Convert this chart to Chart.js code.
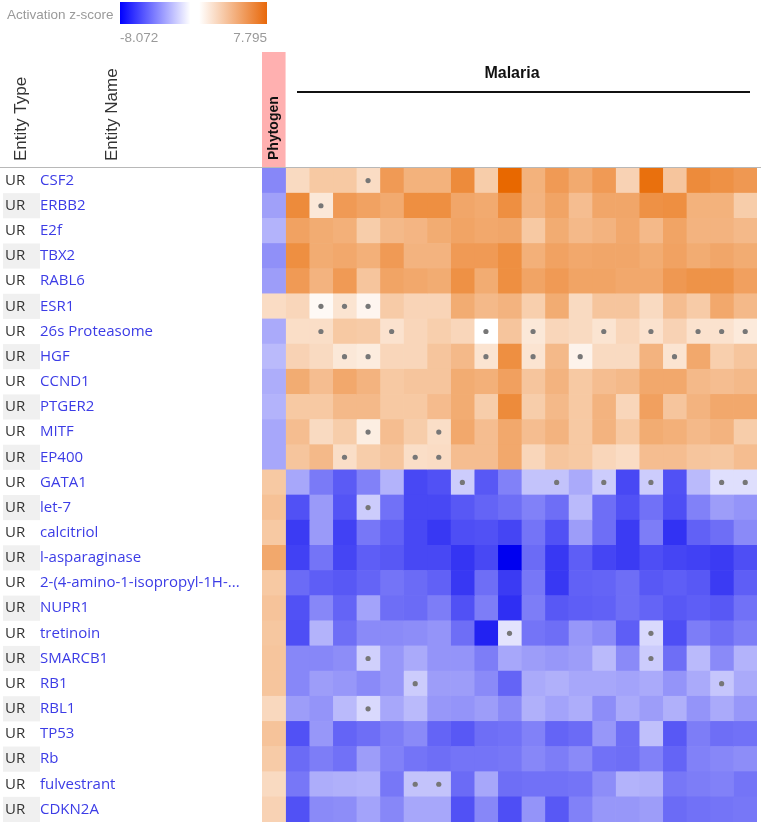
<!DOCTYPE html>
<html>
<head>
<meta charset="utf-8">
<script src="https://cdn.jsdelivr.net/npm/chart.js@4.4.1/dist/chart.umd.min.js"></script>
<style>
  html, body { margin: 0; padding: 0; background: #fff; }
  #wrap { width: 761px; height: 826px; position: relative; }
</style>
</head>
<body>
<div id="wrap"><canvas id="heatmap"></canvas></div>
<script>
// upstream regulators (rows)
const entityTypes = ['UR','UR','UR','UR','UR','UR','UR','UR','UR','UR','UR','UR','UR',
                     'UR','UR','UR','UR','UR','UR','UR','UR','UR','UR','UR','UR','UR'];
const entityNames = ['CSF2','ERBB2','E2f','TBX2','RABL6','ESR1','26s Proteasome','HGF','CCND1',
  'PTGER2','MITF','EP400','GATA1','let-7','calcitriol','l-asparaginase',
  '2-(4-amino-1-isopropyl-1H-...','NUPR1','tretinoin','SMARCB1','RB1','RBL1','TP53','Rb',
  'fulvestrant','CDKN2A'];

// activation z-scores, one per row
const phytogenScores = [-3.8,-3.0,-2.4,-3.5,-3.1,1.8,-2.7,-2.2,-2.6,-2.4,-2.8,-2.8,
  2.8,3.2,2.8,4.5,2.8,3.1,2.9,3.0,3.0,2.0,3.1,2.7,1.9,2.3];

// 20 malaria comparisons, one row per regulator
const malariaScores = [
  [1.9,2.8,2.8,1.8,5.2,4.0,4.0,6.0,2.6,7.8,4.0,5.2,4.4,5.2,2.3,7.4,3.0,6.0,5.7,5.3],
  [6.0,1.2,5.2,4.8,4.4,5.8,5.8,4.6,4.4,5.8,3.9,4.7,3.4,4.6,4.6,5.7,5.8,4.0,4.0,2.6],
  [4.8,4.3,4.1,2.6,3.6,3.8,4.3,4.7,4.5,4.6,2.8,4.3,3.6,3.9,4.5,3.6,4.7,3.9,3.9,3.6],
  [5.8,4.3,4.5,4.1,5.2,3.9,3.9,5.2,5.2,5.8,4.1,4.8,4.5,4.6,4.6,4.3,4.8,4.3,4.6,4.3],
  [5.2,3.9,5.2,3.0,4.7,4.5,4.3,5.7,4.3,5.8,4.7,5.2,4.7,4.7,4.5,4.5,5.3,5.6,5.6,4.9],
  [2.1,0.3,1.4,0.5,2.7,2.2,2.2,4.3,3.6,3.9,2.5,4.3,1.9,3.0,3.0,1.9,3.4,2.7,4.5,3.6],
  [1.7,1.7,2.8,2.7,1.5,2.1,2.5,2.1,0.0,3.0,1.2,2.1,1.9,1.4,2.1,1.5,2.3,1.5,1.5,1.1],
  [2.3,1.9,1.2,1.0,2.1,2.1,3.0,3.6,1.4,5.8,1.4,3.6,0.6,1.9,1.9,3.9,1.4,4.5,2.5,3.0],
  [4.3,3.4,4.5,3.9,2.8,3.0,3.0,4.3,4.1,4.9,3.0,3.9,2.8,3.4,3.6,4.5,4.5,3.6,3.4,3.6],
  [2.8,2.8,3.6,3.6,2.8,2.8,3.5,4.3,2.6,6.0,2.6,3.6,2.8,3.9,2.1,4.9,3.0,3.9,4.5,4.5],
  [3.4,1.9,2.6,0.9,3.4,2.6,1.7,4.5,3.4,4.5,3.4,3.9,2.8,3.9,2.8,4.3,4.1,3.6,3.9,2.6],
  [3.0,3.6,1.7,2.6,3.0,1.7,1.8,3.4,3.4,4.5,2.1,3.0,2.8,2.1,1.8,3.4,3.4,3.0,2.9,3.4],
  [-2.8,-4.2,-5.2,-4.0,-2.4,-5.8,-5.5,-1.6,-5.3,-4.0,-1.9,-1.9,-2.7,-1.6,-5.8,-1.6,-5.5,-2.2,-1.0,-1.0],
  [-5.5,-3.2,-5.4,-1.6,-4.5,-5.8,-5.8,-5.3,-4.9,-4.6,-4.0,-4.6,-2.2,-4.6,-5.5,-4.5,-5.6,-4.0,-3.1,-3.4],
  [-6.2,-3.2,-6.0,-4.3,-5.0,-5.8,-6.3,-5.6,-5.5,-5.9,-4.4,-5.5,-3.1,-4.6,-6.2,-4.1,-6.5,-5.0,-4.6,-3.7],
  [-6.0,-4.4,-5.9,-5.1,-5.3,-5.8,-5.8,-6.4,-5.8,-8.07,-4.7,-6.3,-5.1,-5.9,-6.2,-5.6,-5.9,-6.0,-6.2,-5.6],
  [-4.7,-5.1,-5.3,-4.9,-4.4,-4.7,-5.0,-6.3,-4.6,-6.2,-4.3,-6.3,-5.0,-4.9,-4.6,-5.3,-5.1,-5.3,-6.2,-5.1],
  [-5.5,-3.8,-4.9,-2.9,-4.6,-4.7,-4.1,-5.5,-4.1,-6.6,-4.1,-5.3,-5.1,-5.0,-4.6,-4.9,-5.3,-5.1,-5.3,-4.5],
  [-5.6,-2.4,-4.6,-3.7,-3.7,-3.6,-3.4,-4.6,-7.0,-0.9,-4.4,-4.6,-3.3,-3.7,-5.1,-1.2,-5.6,-4.1,-4.6,-4.1],
  [-3.8,-3.8,-3.6,-1.5,-3.3,-2.7,-3.4,-3.4,-4.1,-2.8,-3.1,-3.3,-3.1,-2.2,-3.7,-1.6,-4.6,-2.2,-3.7,-2.4],
  [-3.8,-3.1,-3.3,-3.7,-3.3,-1.6,-3.1,-3.1,-3.7,-4.9,-2.7,-2.5,-2.8,-2.8,-2.9,-2.7,-3.4,-2.7,-1.8,-2.7],
  [-3.1,-3.4,-2.2,-1.2,-2.8,-2.2,-3.3,-3.4,-3.1,-3.7,-2.5,-2.9,-2.6,-3.6,-2.7,-3.1,-2.5,-3.4,-2.7,-3.3],
  [-5.5,-3.3,-4.9,-4.6,-4.1,-3.7,-4.9,-5.3,-4.6,-4.5,-4.0,-4.9,-4.7,-3.3,-4.6,-2.0,-5.3,-4.1,-4.6,-4.5],
  [-4.7,-4.1,-4.5,-3.1,-4.0,-4.4,-4.6,-4.4,-4.4,-4.3,-3.8,-4.1,-3.7,-4.5,-4.6,-4.0,-4.9,-4.0,-3.8,-3.6],
  [-4.3,-2.6,-2.5,-2.4,-4.3,-1.9,-1.9,-4.7,-2.8,-4.6,-4.5,-4.5,-4.4,-3.6,-2.4,-2.5,-4.3,-4.1,-4.0,-4.4],
  [-5.5,-3.7,-3.6,-2.9,-3.8,-2.8,-2.8,-5.5,-3.8,-5.6,-3.4,-5.3,-4.0,-3.3,-3.3,-3.1,-4.7,-4.5,-4.4,-4.3]
];

// cells marked with a grey dot: [row, malaria column (1-based)]
const dotCells = [
  [0,4],[1,2],[5,2],[5,3],[5,4],
  [6,2],[6,5],[6,9],[6,11],[6,14],[6,16],[6,18],[6,19],[6,20],
  [7,3],[7,4],[7,9],[7,11],[7,13],[7,17],
  [10,4],[10,7],[11,3],[11,6],[11,7],
  [12,8],[12,12],[12,14],[12,16],[12,19],[12,20],
  [13,4],[18,10],[18,16],[19,4],[19,16],[20,6],[20,19],[21,4],[24,6],[24,7]
];

const zMin = -8.072;
const zMax = 7.795;
const colNeg = [0, 0, 240];
const colPos = [232, 104, 0];

function zColor(v) {
  const t = v < 0 ? Math.min(1, -v / -zMin) : Math.min(1, v / zMax);
  const end = v < 0 ? colNeg : colPos;
  const c = end.map(e => Math.round(255 + (e - 255) * t));
  return 'rgb(' + c.join(',') + ')';
}

function scoreAt(row, col) {
  return col === 0 ? phytogenScores[row] : malariaScores[row][col - 1];
}

const nCols = 1 + malariaScores[0].length;
const datasets = [];
for (let c = 0; c < nCols; c++) {
  datasets.push({
    type: 'bar',
    indexAxis: 'y',
    grouped: false,
    order: 1,
    data: entityNames.map(() => [c, c + 1]),
    backgroundColor: entityNames.map((_, r) => zColor(scoreAt(r, c))),
    borderWidth: 0,
    barPercentage: 1,
    categoryPercentage: 1
  });
}
// dots go on top of the cells
datasets.push({
  type: 'scatter',
  order: 0,
  data: dotCells.map(([r, c]) => ({ x: c + 0.5, y: entityNames[r] })),
  backgroundColor: '#777777',
  borderWidth: 0,
  pointRadius: 2.6
});

const uiFont = '"Open Sans", "Noto Sans", sans-serif';
const headFont = '"Liberation Sans", Arial, sans-serif';

const headerPlugin = {
  id: 'header',
  afterDraw(chart) {
    const ctx = chart.ctx;
    const area = chart.chartArea;
    const y = chart.scales.y;
    ctx.save();

    // colour legend
    ctx.font = '13.5px ' + headFont;
    ctx.fillStyle = '#9a9a9a';
    ctx.textBaseline = 'middle';
    ctx.textAlign = 'left';
    ctx.fillText('Activation z-score', 7, 15);
    const gx0 = 120, gx1 = 267;
    const grad = ctx.createLinearGradient(gx0, 0, gx1, 0);
    const mid = -zMin / (zMax - zMin);
    grad.addColorStop(0, 'rgb(0,0,255)');
    grad.addColorStop(mid - 0.03, '#ffffff');
    grad.addColorStop(mid + 0.03, '#ffffff');
    grad.addColorStop(1, 'rgb(232,104,10)');
    ctx.fillStyle = grad;
    ctx.fillRect(gx0, 2, gx1 - gx0, 22);
    ctx.fillStyle = '#9a9a9a';
    ctx.fillText(zMin.toFixed(3), gx0, 38);
    ctx.textAlign = 'right';
    ctx.fillText(zMax.toFixed(3), gx1, 38);

    // column headers
    const colW = (area.right - area.left) / nCols;
    ctx.fillStyle = '#ffb0b0';
    ctx.fillRect(area.left, 52, colW, area.top - 52);

    const vText = (txt, x, yb, font, color) => {
      ctx.save();
      ctx.translate(x, yb);
      ctx.rotate(-Math.PI / 2);
      ctx.font = font;
      ctx.fillStyle = color;
      ctx.textAlign = 'left';
      ctx.textBaseline = 'middle';
      ctx.fillText(txt, 0, 0);
      ctx.restore();
    };
    vText('Entity Type', 21, 161, '17px ' + headFont, '#333');
    vText('Entity Name', 112, 161, '17px ' + headFont, '#333');
    vText('Phytogen', area.left + colW / 2, 160, 'bold 14px ' + headFont, '#111');

    const mx0 = 297, mx1 = area.right - 7;
    ctx.font = 'bold 16px ' + headFont;
    ctx.fillStyle = '#111';
    ctx.textAlign = 'center';
    ctx.textBaseline = 'middle';
    ctx.fillText('Malaria', 512, 74);
    ctx.strokeStyle = '#111';
    ctx.lineWidth = 2;
    ctx.beginPath();
    ctx.moveTo(mx0, 92);
    ctx.lineTo(mx1, 92);
    ctx.stroke();

    ctx.strokeStyle = '#b8b8b8';
    ctx.lineWidth = 1;
    ctx.beginPath();
    ctx.moveTo(0, area.top - 0.5);
    ctx.lineTo(chart.width, area.top - 0.5);
    ctx.stroke();

    // entity type column
    const rowH = (area.bottom - area.top) / entityNames.length;
    ctx.font = '15px ' + uiFont;
    ctx.textAlign = 'left';
    entityTypes.forEach((t, i) => {
      const cy = y.getPixelForValue(i);
      if (i % 2 === 1) {
        ctx.fillStyle = '#f0f0f0';
        ctx.fillRect(3, cy - rowH / 2, 37, rowH);
      }
      ctx.fillStyle = '#333';
      ctx.fillText(t, 5, cy);
    });
    ctx.restore();
  }
};

new Chart(document.getElementById('heatmap'), {
  type: 'bar',
  data: { labels: entityNames, datasets: datasets },
  options: {
    indexAxis: 'y',
    responsive: true,
    maintainAspectRatio: false,
    animation: false,
    events: [],
    layout: { padding: { left: 40, top: 168, right: 2, bottom: 2 } },
    plugins: { legend: { display: false }, tooltip: { enabled: false } },
    scales: {
      x: { type: 'linear', min: 0, max: nCols, display: false },
      y: {
        type: 'category',
        labels: entityNames,
        offset: true,
        grid: { display: false },
        border: { display: false },
        ticks: {
          autoSkip: false,
          crossAlign: 'far',
          padding: 0,
          color: '#3c3ce6',
          font: { family: uiFont, size: 15 }
        },
        afterFit(scale) {
          scale.width = 222;
          scale.paddingTop = 0;
          scale.paddingBottom = 0;
        }
      }
    }
  },
  plugins: [headerPlugin]
});
</script>
</body>
</html>
